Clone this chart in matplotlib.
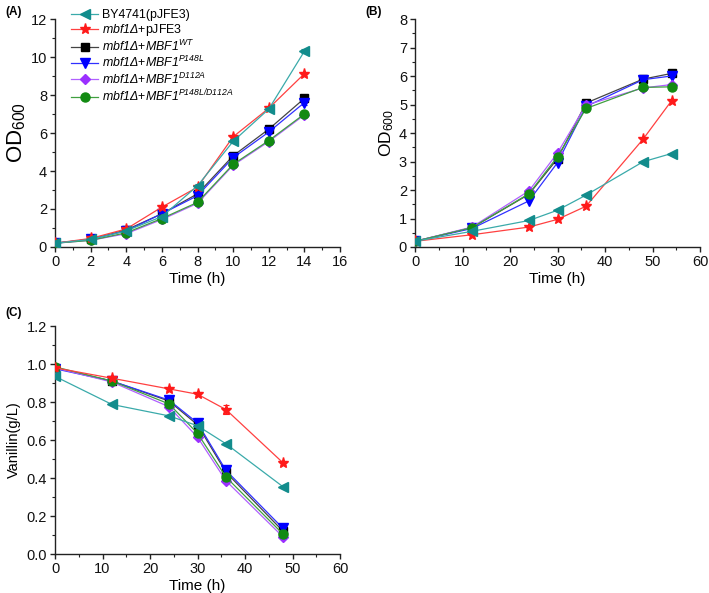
import matplotlib
matplotlib.use("Agg")
import matplotlib.pyplot as plt
from matplotlib.ticker import MultipleLocator, FormatStrFormatter

plt.rcParams['font.family'] = ['Liberation Sans', 'DejaVu Sans']
plt.rcParams['mathtext.fontset'] = 'custom'
# Greek capitals in mathtext use the "rm" font: make it italic so that Δ is italic.
plt.rcParams['mathtext.rm'] = 'Liberation Sans:italic'
plt.rcParams['mathtext.it'] = 'Liberation Sans:italic'
plt.rcParams['mathtext.sf'] = 'Liberation Sans'
plt.rcParams['mathtext.bf'] = 'Liberation Sans:bold'

# ---------------- data ----------------
labels = [
    "BY4741(pJFE3)",
    r"$\mathit{mbf1}\Delta$+pJFE3",
    r"$\mathit{mbf1}\Delta$+$\mathit{MBF1}^{\mathit{WT}}$",
    r"$\mathit{mbf1}\Delta$+$\mathit{MBF1}^{\mathit{P148L}}$",
    r"$\mathit{mbf1}\Delta$+$\mathit{MBF1}^{\mathit{D112A}}$",
    r"$\mathit{mbf1}\Delta$+$\mathit{MBF1}^{\mathit{P148L/D112A}}$",
]
colors = ["#128c8c", "#ff1a1a", "#000000", "#0000ff", "#9b30ff", "#128a12"]
line_colors = ["#3aaaaa", "#ff4040", "#444444", "#3030ff", "#b060ff", "#40a040"]
markers = ["<", "*", "s", "v", "D", "o"]
msizes = [7, 8, 5.5, 6.5, 5.5, 6.5]

time_a = [0, 2, 4, 6, 8, 10, 12, 14]
od_a = [
    [0.20, 0.40, 0.85, 1.60, 3.22, 5.56, 7.26, 10.30],
    [0.20, 0.45, 0.95, 2.10, 3.15, 5.80, 7.30, 9.12],
    [0.20, 0.40, 0.90, 1.75, 2.80, 4.80, 6.20, 7.82],
    [0.20, 0.40, 0.85, 1.75, 2.70, 4.70, 6.05, 7.60],
    [0.20, 0.35, 0.70, 1.45, 2.30, 4.30, 5.55, 6.95],
    [0.20, 0.35, 0.75, 1.50, 2.35, 4.35, 5.60, 7.00],
]
err_a = [
    [0.02, 0.03, 0.05, 0.05, 0.08, 0.10, 0.08, 0.10],
    [0.02, 0.03, 0.05, 0.10, 0.08, 0.10, 0.10, 0.10],
    [0.02, 0.03, 0.05, 0.05, 0.10, 0.10, 0.10, 0.18],
    [0.02, 0.03, 0.05, 0.05, 0.10, 0.10, 0.10, 0.10],
    [0.02, 0.03, 0.05, 0.05, 0.08, 0.10, 0.08, 0.08],
    [0.02, 0.03, 0.05, 0.05, 0.08, 0.10, 0.08, 0.08],
]

time_b = [0, 12, 24, 30, 36, 48, 54]
od_b = [
    [0.20, 0.55, 0.93, 1.29, 1.82, 2.99, 3.28],
    [0.20, 0.43, 0.70, 0.97, 1.43, 3.78, 5.13],
    [0.20, 0.68, 1.85, 3.10, 5.05, 5.89, 6.09],
    [0.20, 0.65, 1.62, 2.96, 4.93, 5.87, 6.00],
    [0.20, 0.70, 1.97, 3.30, 4.98, 5.58, 5.70],
    [0.20, 0.68, 1.87, 3.17, 4.86, 5.60, 5.62],
]

time_c = [0, 12, 24, 30, 36, 48]
van_c = [
    [0.935, 0.787, 0.727, 0.675, 0.580, 0.354],
    [0.980, 0.925, 0.869, 0.841, 0.760, 0.480],
    [0.980, 0.910, 0.805, 0.680, 0.430, 0.120],
    [0.975, 0.910, 0.810, 0.690, 0.440, 0.135],
    [0.980, 0.905, 0.775, 0.615, 0.385, 0.090],
    [0.985, 0.910, 0.790, 0.635, 0.405, 0.105],
]
err_c = [
    [0.005, 0.005, 0.005, 0.005, 0.005, 0.005],
    [0.005, 0.010, 0.010, 0.010, 0.025, 0.010],
    [0.005, 0.005, 0.010, 0.010, 0.010, 0.010],
    [0.005, 0.005, 0.010, 0.010, 0.010, 0.010],
    [0.005, 0.005, 0.010, 0.010, 0.010, 0.010],
    [0.005, 0.005, 0.010, 0.010, 0.010, 0.010],
]

# ---------------- figure ----------------
W, H = 709, 593
fig = plt.figure(figsize=(W / 100, H / 100), dpi=100)


def px_axes(x0, x1, ytop, ybot):
    return fig.add_axes([x0 / W, 1 - ybot / H, (x1 - x0) / W, (ybot - ytop) / H])


axA = px_axes(55, 340, 19, 247)
axB = px_axes(415, 700, 19, 247)
axC = px_axes(55, 340, 326, 554)


def style(ax, xmax, xmaj, xmin, ymax, ymaj, ymin, yfmt=None):
    for s in ("top", "right"):
        ax.spines[s].set_visible(False)
    for s in ("left", "bottom"):
        ax.spines[s].set_linewidth(1.0)
        ax.spines[s].set_color("#222222")
    ax.set_xlim(0, xmax)
    ax.set_ylim(0, ymax)
    ax.xaxis.set_major_locator(MultipleLocator(xmaj))
    ax.xaxis.set_minor_locator(MultipleLocator(xmin))
    ax.yaxis.set_major_locator(MultipleLocator(ymaj))
    ax.yaxis.set_minor_locator(MultipleLocator(ymin))
    ax.tick_params(which="major", direction="out", length=3.5, width=1.0,
                   labelsize=10.5, pad=2.2, color="#222222")
    ax.tick_params(which="minor", direction="out", length=2, width=0.8,
                   color="#222222")
    ax.set_xlabel("Time (h)", fontsize=11, labelpad=2)
    if yfmt:
        ax.yaxis.set_major_formatter(yfmt)


def draw(ax, t, series, errs=None, zorders=None):
    for i, ys in enumerate(series):
        z = 3 + (zorders[i] if zorders else i)
        if errs is not None:
            ax.errorbar(t, ys, yerr=errs[i], fmt="none", ecolor=colors[i],
                        elinewidth=0.8, capsize=2, capthick=0.8, zorder=z)
        ax.plot(t, ys, color=line_colors[i], lw=0.9, marker=markers[i],
                ms=msizes[i], mfc=colors[i], mec=colors[i], label=labels[i],
                zorder=z)


zo = [6, 5, 0, 1, 2, 3]
draw(axA, time_a, od_a, err_a, zo)
draw(axB, time_b, od_b, None, zo)
draw(axC, time_c, van_c, err_c, zo)

style(axA, 16, 2, 1, 12, 2, 1)
axA.set_ylabel(r"OD$_{\mathsf{600}}$", fontsize=16, labelpad=2)
style(axB, 60, 10, 5, 8, 1, 0.5)
axB.set_ylabel(r"OD$_{\mathsf{600}}$", fontsize=12.5, labelpad=2)
style(axC, 60, 10, 5, 1.2, 0.2, 0.1, yfmt=FormatStrFormatter("%.1f"))
axC.set_ylabel("Vanillin(g/L)", fontsize=10.5, labelpad=4)

for ax in (axA, axB, axC):
    for lab in ax.get_xticklabels() + ax.get_yticklabels():
        lab.set_color("#111111")

leg = axA.legend(loc="upper left", bbox_to_anchor=(71 / W, 1 - 9 / H),
                 bbox_transform=fig.transFigure, frameon=False,
                 fontsize=8.9, handlelength=2.2, handletextpad=0.3,
                 labelspacing=0.08, borderaxespad=0.0, borderpad=0.0)

fig.text(5 / W, 1 - 6 / H, "(A)", fontsize=8.5, fontweight="bold", va="top")
fig.text(365 / W, 1 - 6 / H, "(B)", fontsize=8.5, fontweight="bold", va="top")
fig.text(5 / W, 1 - 307 / H, "(C)", fontsize=8.5, fontweight="bold", va="top")

fig.savefig("out.png", dpi=100)
